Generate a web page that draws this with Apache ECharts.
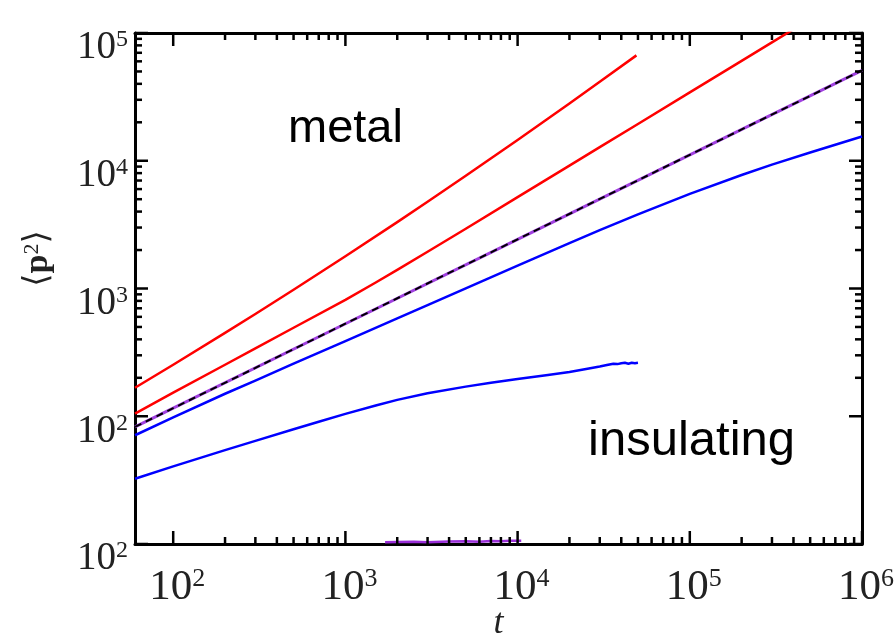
<!DOCTYPE html>
<html><head><meta charset="utf-8">
<script src="https://cdn.jsdelivr.net/npm/echarts@6/dist/echarts.min.js"></script>
<style>html,body{margin:0;padding:0;background:#fff}#c{width:895px;height:637px}</style>
</head><body><div id="c"></div>
<script>
// ---- axis ranges & tick labels ----
const X_MIN = 60, X_MAX = 1000000;
const Y_MIN = 10, Y_MAX = 100000;
const xMajor = [100, 1000, 10000, 100000, 1000000];
const xMajorSup = ['2', '3', '4', '5', '6'];
const yMajor = [10, 100, 1000, 10000, 100000];
const yMajorSup = ['2', '2', '3', '4', '5'];
const xMinor = [200,300,400,500,600,700,800,900,
  2000,3000,4000,5000,6000,7000,8000,9000,
  20000,30000,40000,50000,60000,70000,80000,90000,
  200000,300000,400000,500000,600000,700000,800000,900000];
const yMinor = [200,300,400,500,600,700,800,900,
  2000,3000,4000,5000,6000,7000,8000,9000,
  20000,30000,40000,50000,60000,70000,80000,90000];

// ---- series data ----
const tRed1 = [60,100,200,300,500,1000,2000,3000,5000,10000,20000,30000,49000];
const pRed1 = [167,253,449,632,978,1786,3306,4770,7620,14520,28050,41500,66800];

const tRed2 = [60,100,200,300,500,1000,1500,2000,3000,5000,10000,20000,30000,50000,100000,200000,300000,400000];
const pRed2 = [105,153,253,340,493,815,1115,1400,1940,2938,5190,9160,12770,19410,34280,60530,84400,106900];

const tFit = [60,100,1000,10000,100000,1000000];
const pFit = [82.6,115.6,530,2427,11120,50900];

const tPurple = [60,100,1000,10000,100000,1000000];
const pPurple = [82.6,115.6,530,2427,11120,50900];

const tBlue1 = [60,100,200,300,500,1000,2000,3000,5000,10000,20000,30000,50000,100000,200000,300000,500000,1000000];
const pBlue1 = [71,98,150,190,258,388,583,741,1002,1508,2265,2860,3810,5510,7730,9330,11600,15500];

const tBlue2 = [60,100,150,200,300,500,700,1000,1500,2000,3000,5000,7000,10000,15000,20000,25000,30000,33000,36000,38000,40000,42000,44000,46000,48000,50000];
const pBlue2 = [32.4,40.5,48.1,54.3,64.1,79.1,90.6,104.3,121.3,134.3,151.4,170.6,182.8,196,210,222,234,245,252,258,256,260,262,258,262,260,262];

const tPurpleLow = [1700,2000,2500,3000,4000,5000,6000,7000,8000,9000,10500];
const pPurpleLow = [10.3,10.35,10.4,10.3,10.45,10.5,10.4,10.55,10.5,10.6,10.6];

function pairs(t, p) { return t.map((v, i) => [v, p[i]]); }

const chart = echarts.init(document.getElementById('c'), null, {renderer: 'canvas'});

const serif = '"Liberation Serif", "Times New Roman", serif';
const lblColor = '#222';

function fmtFactory(vals, sups) {
  return function (value) {
    for (let i = 0; i < vals.length; i++) {
      if (Math.abs(Math.log10(value) - Math.log10(vals[i])) < 1e-6) {
        return '{b|10}{s|' + sups[i] + '}';
      }
    }
    return '';
  };
}

function tickSeries(values, orient, len) {
  return {
    type: 'custom', xAxisIndex: 0, yAxisIndex: 0, silent: true, clip: false, z: 10,
    data: values.map(v => orient === 'x' ? [v, Y_MIN] : [X_MIN, v]),
    renderItem: function (params, api) {
      const st = {stroke: '#000', lineWidth: 2.5};
      if (orient === 'x') {
        const v = api.value(0);
        const a = api.coord([v, Y_MIN]);
        const b = api.coord([v, Y_MAX]);
        return {type: 'group', children: [
          {type: 'line', shape: {x1: a[0], y1: a[1], x2: a[0], y2: a[1] - len}, style: st},
          {type: 'line', shape: {x1: b[0], y1: b[1], x2: b[0], y2: b[1] + len}, style: st}
        ]};
      } else {
        const v = api.value(1);
        const a = api.coord([X_MIN, v]);
        const b = api.coord([X_MAX, v]);
        return {type: 'group', children: [
          {type: 'line', shape: {x1: a[0], y1: a[1], x2: a[0] + len, y2: a[1]}, style: st},
          {type: 'line', shape: {x1: b[0], y1: b[1], x2: b[0] - len, y2: b[1]}, style: st}
        ]};
      }
    }
  };
}

function lineSeries(data, color, width, extra) {
  return Object.assign({
    type: 'line', data: data, showSymbol: false, symbol: 'none', smooth: false,
    lineStyle: {color: color, width: width, join: 'round'}, silent: true, animation: false
  }, extra || {});
}

const axisLineStyle = {show: true, lineStyle: {color: '#000', width: 3}};

const option = {
  animation: false,
  grid: {left: 135, right: 33, top: 33, bottom: 93, containLabel: false, outerBoundsMode: 'none'},
  xAxis: [{
    type: 'log', logBase: 10, min: X_MIN, max: X_MAX, position: 'bottom',
    axisLine: axisLineStyle, axisTick: {show: false}, splitLine: {show: false},
    axisLabel: {
      formatter: fmtFactory(xMajor, xMajorSup), margin: 22, padding: [0, 0, 0, 8],
      showMinLabel: true, showMaxLabel: true, hideOverlap: false,
      rich: {
        b: {fontSize: 43, lineHeight: 44, fontFamily: serif, color: lblColor},
        s: {fontSize: 26, lineHeight: 16, fontFamily: serif, color: lblColor, verticalAlign: 'top'}
      }
    },
    name: 't', nameLocation: 'middle', nameGap: 62, nameMoveOverlap: false,
    nameTextStyle: {fontFamily: serif, fontStyle: 'italic', fontSize: 36, color: lblColor}
  }, {
    type: 'log', logBase: 10, min: X_MIN, max: X_MAX, position: 'top',
    axisLine: axisLineStyle, axisTick: {show: false}, splitLine: {show: false},
    axisLabel: {show: false}
  }],
  yAxis: [{
    type: 'log', logBase: 10, min: Y_MIN, max: Y_MAX, position: 'left',
    axisLine: axisLineStyle, axisTick: {show: false}, splitLine: {show: false},
    axisLabel: {
      formatter: fmtFactory(yMajor, yMajorSup), margin: 7, padding: [30, 0, 0, 0],
      showMinLabel: true, showMaxLabel: true, hideOverlap: false,
      rich: {
        b: {fontSize: 39, lineHeight: 40, fontFamily: serif, color: lblColor},
        s: {fontSize: 24, lineHeight: 14, fontFamily: serif, color: lblColor, verticalAlign: 'top'}
      }
    },
    name: '{a|⟨}{p|p}{s|2}{a|⟩}', nameLocation: 'middle', nameGap: 80, nameRotate: 90, nameMoveOverlap: false,
    nameTextStyle: {
      padding: [0, 0, 0, 60],
      rich: {
        a: {fontSize: 34, fontFamily: '"DejaVu Serif", serif', color: lblColor},
        p: {fontSize: 34, fontFamily: serif, fontWeight: 'bold', color: lblColor},
        s: {fontSize: 22, lineHeight: 14, fontFamily: serif, color: lblColor, verticalAlign: 'top'}
      }
    }
  }, {
    type: 'log', logBase: 10, min: Y_MIN, max: Y_MAX, position: 'right',
    axisLine: axisLineStyle, axisTick: {show: false}, splitLine: {show: false},
    axisLabel: {show: false}
  }],
  graphic: [
    {type: 'text', x: 288, y: 129, silent: true,
     style: {text: 'metal', font: '47px "Liberation Sans", Arial, sans-serif', fill: '#000', verticalAlign: 'middle', align: 'left'}},
    {type: 'text', x: 588, y: 441, silent: true,
     style: {text: 'insulating', font: '49px "Liberation Sans", Arial, sans-serif', fill: '#000', verticalAlign: 'middle', align: 'left'}}
  ],
  series: [
    lineSeries(pairs(tRed1, pRed1), '#ff0000', 2.5),
    lineSeries(pairs(tRed2, pRed2), '#ff0000', 2.5),
    lineSeries(pairs(tBlue1, pBlue1), '#0000ff', 2.5),
    lineSeries(pairs(tBlue2, pBlue2), '#0000ff', 2.5),
    lineSeries(pairs(tPurpleLow, pPurpleLow), '#9a2fd8', 2.5),
    lineSeries(pairs(tPurple, pPurple), '#a040e0', 3),
    lineSeries(pairs(tFit, pFit), '#000000', 2, {lineStyle: {color: '#000', width: 2, type: [7, 5]}}),
    tickSeries(xMajor, 'x', 13),
    tickSeries(xMinor, 'x', 7),
    tickSeries(yMajor, 'y', 13),
    tickSeries(yMinor, 'y', 7)
  ]
};
chart.setOption(option);
</script>
</body></html>
